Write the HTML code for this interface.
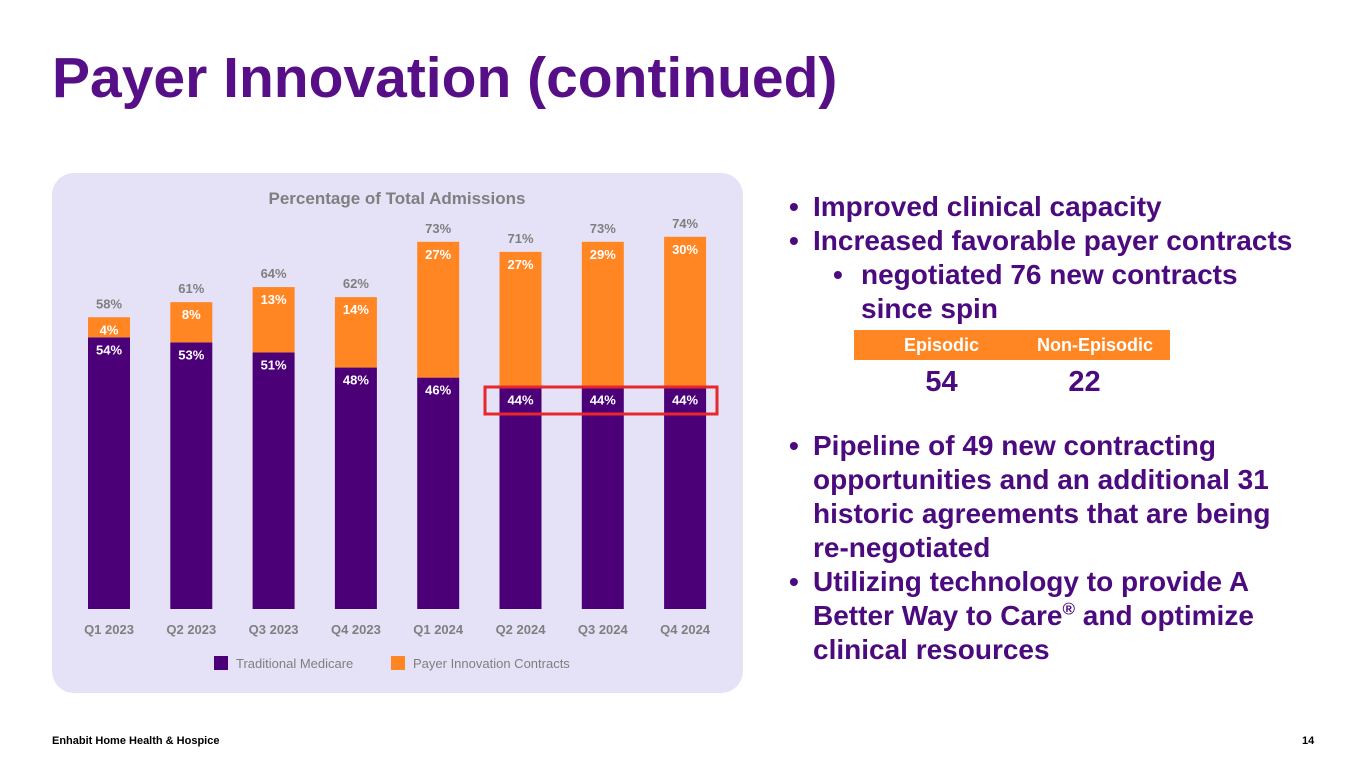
<!DOCTYPE html>
<html><head><meta charset="utf-8"><style>
body{margin:0;width:1365px;height:768px;background:#fff;font-family:"Liberation Sans",sans-serif;position:relative;overflow:hidden}
.abs{position:absolute}
.title{left:52px;top:45px;font-size:57px;font-weight:bold;color:#560f86;white-space:nowrap}
.panel{left:52px;top:173px;width:691px;height:520px;background:#e5e2f7;border-radius:22px}
.txt{color:#4b0a7e;font-weight:bold;font-size:28px;line-height:34px}
.li{position:absolute;white-space:nowrap}
.b{position:absolute;left:-24px}
</style></head><body>
<div class="abs title">Payer Innovation (continued)</div>
<div class="abs panel"></div>
<svg class="abs" style="left:0;top:0" width="1365" height="768" id="chart">
<text x="397" y="204" text-anchor="middle" font-size="17" font-weight="bold" fill="#7f7f7f">Percentage of Total Admissions</text>
</svg>
<div class="abs txt" style="left:813px;top:190px;width:540px;height:480px">
<div class="li" style="top:0"><span class="b">•</span>Improved clinical capacity</div>
<div class="li" style="top:34px"><span class="b">•</span>Increased favorable payer contracts</div>
<div class="li" style="top:68px;left:48px"><span class="b" style="left:-28px">•</span>negotiated 76 new contracts<br>since spin</div>
<div class="li" style="top:239px"><span class="b">•</span>Pipeline of 49 new contracting<br>opportunities and an additional 31<br>historic agreements that are being<br>re-negotiated</div>
<div class="li" style="top:375px"><span class="b">•</span>Utilizing technology to provide A<br>Better Way to Care<sup style="font-size:17px;line-height:0">®</sup> and optimize<br>clinical resources</div>
</div>
<div class="abs" style="left:854px;top:330px;width:316px;height:30px;background:#ff8623"></div>
<div class="abs" style="left:854px;top:335px;width:175px;text-align:center;color:#fff;font-weight:bold;font-size:18px">Episodic</div>
<div class="abs" style="left:1020px;top:335px;width:150px;text-align:center;color:#fff;font-weight:bold;font-size:18px">Non-Episodic</div>
<div class="abs" style="left:904px;top:366px;width:75px;text-align:center;color:#4b0a7e;font-weight:bold;font-size:29px">54</div>
<div class="abs" style="left:1047px;top:366px;width:75px;text-align:center;color:#4b0a7e;font-weight:bold;font-size:29px">22</div>
<div class="abs" style="left:52px;top:735px;font-size:11px;font-weight:bold">Enhabit Home Health &amp; Hospice</div>
<div class="abs" style="left:1302px;top:735px;font-size:11px;font-weight:bold">14</div>
<script>
const categories=["Q1 2023","Q2 2023","Q3 2023","Q4 2023","Q1 2024","Q2 2024","Q3 2024","Q4 2024"];
const traditional=[54,53,51,48,46,44,44,44];
const payer=[4,8,13,14,27,27,29,30];
const totals=[58,61,64,62,73,71,73,74];
const NS="http://www.w3.org/2000/svg";
const svg=document.getElementById("chart");
const base=609, pxPer=5.03, x0=109, step=82.3, bw=42;
const y=v=>base-v*pxPer, xc=i=>x0+i*step;
function el(t,a){const e=document.createElementNS(NS,t);for(const k in a)e.setAttribute(k,a[k]);svg.appendChild(e);return e;}
function txt(x,yy,s,fill,size,bold){const e=el("text",{x:x,y:yy,"text-anchor":"middle","font-size":size,fill:fill});if(bold)e.setAttribute("font-weight","bold");e.textContent=s;return e;}
categories.forEach((c,i)=>{
  const x=xc(i);
  const r1=el("rect",{x:x-bw/2,y:y(traditional[i]),width:bw,height:traditional[i]*pxPer,fill:"#4b0078"});
  
  
  const r2=el("rect",{x:x-bw/2,y:y(traditional[i]+payer[i]),width:bw,height:payer[i]*pxPer,fill:"#ff8623"});
  
  
  const t1=txt(x,y(traditional[i])+17,traditional[i]+"%","#fff",13,true);
  
  
  const t2=txt(x,y(traditional[i]+payer[i])+17,payer[i]+"%","#fff",13,true);
  
  
  const t3=txt(x,y(totals[i])-9,totals[i]+"%","#7f7f7f",13,true);
  
  
  const t4=txt(x,634,c,"#7f7f7f",13,true);
  
  
});
const box=el("rect",{x:485,y:387,width:232,height:27,fill:"none",stroke:"#e8262b","stroke-width":3});


const l1=el("rect",{x:214,y:656,width:14,height:14,fill:"#4b0078"});


const lt1=el("text",{x:236,y:668,"font-size":13,fill:"#7f7f7f"});lt1.textContent="Traditional Medicare";


const l2=el("rect",{x:391,y:656,width:14,height:14,fill:"#ff8623"});


const lt2=el("text",{x:413,y:668,"font-size":13,fill:"#7f7f7f"});lt2.textContent="Payer Innovation Contracts";


</script>
</body></html>
